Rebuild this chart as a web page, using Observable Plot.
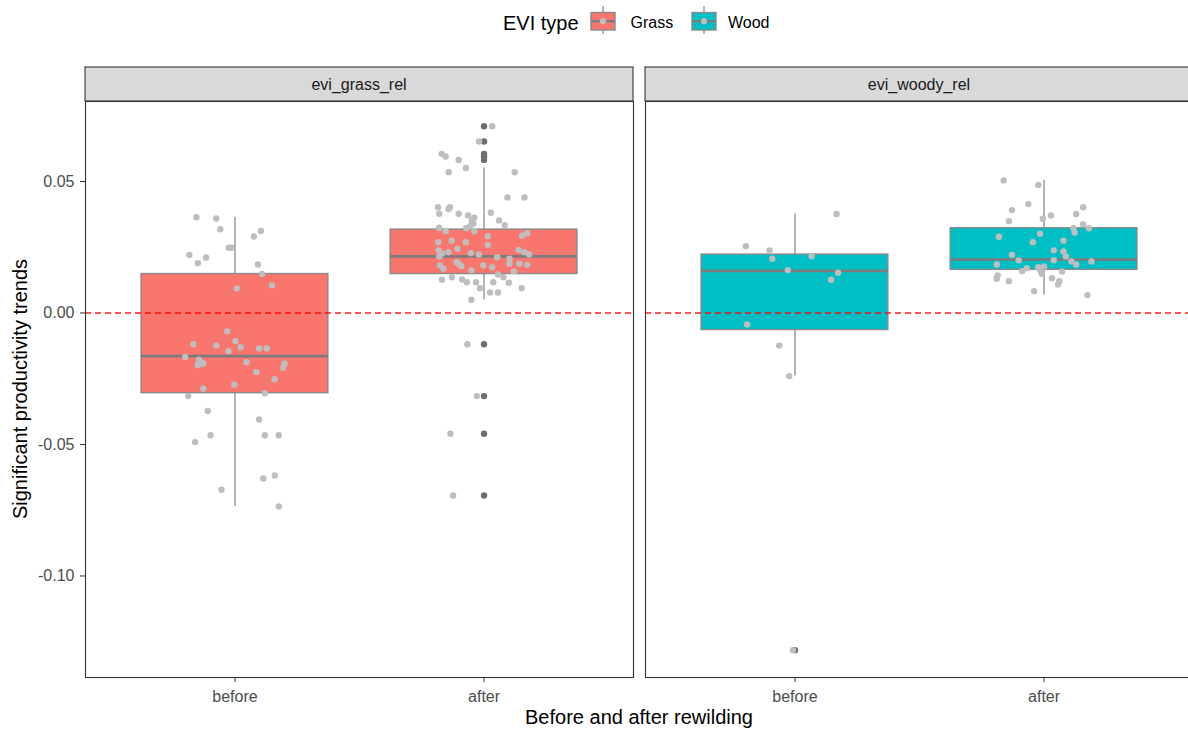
<!DOCTYPE html>
<html>
<head>
<meta charset="utf-8">
<script src="https://cdn.jsdelivr.net/npm/d3@7"></script>
<script src="https://cdn.jsdelivr.net/npm/@observablehq/plot@0.6"></script>
<style>
  html, body { margin: 0; padding: 0; overflow: hidden; background: #fff; }
  body { width: 1188px; height: 729px; font-family: "Liberation Sans", Arial, sans-serif; }
  #legend { display: block; width: 1188px; height: 44px; }
  #chart { width: 1196px; }
  #chart svg { display: block; max-width: none !important; }
</style>
</head>
<body>
<svg id="legend" width="1188" height="44"></svg>
<div id="chart"></div>
<script>
// Facets, EVI types and rewilding periods
const panels = ["evi_grass_rel", "evi_woody_rel"];
const types = ["Grass", "Wood"];
const periods = ["before", "after"];
const typeColors = ["#F8766D", "#00BFC4"];
const yTicks = [-0.10, -0.05, 0.00, 0.05];

// Significant productivity trends per site, with horizontal jitter (in category units)
const grassBeforeValue = [0.0364, 0.0359, 0.0318, 0.0312, 0.0291, 0.0248, 0.0248, 0.0221, 0.0211, 0.0189, 0.0184, 0.0148, 0.0105, 0.0093, -0.0070, -0.0107, -0.0119, -0.0124, -0.0130, -0.0135, -0.0135, -0.0145, -0.0167, -0.0178, -0.0187, -0.0192, -0.0198, -0.0187, -0.0192, -0.0208, -0.0225, -0.0252, -0.0273, -0.0288, -0.0305, -0.0316, -0.0373, -0.0405, -0.0465, -0.0465, -0.0465, -0.0491, -0.0618, -0.0629, -0.0672, -0.0736];
const grassBeforeJitter = [-0.155, -0.075, -0.059, 0.104, 0.076, -0.025, -0.014, -0.183, -0.116, -0.149, 0.092, 0.109, 0.148, 0.007, -0.031, 0.002, -0.167, -0.075, 0.023, 0.097, 0.127, -0.026, -0.2, -0.144, -0.139, -0.127, -0.149, 0.047, 0.199, 0.194, 0.086, 0.159, -0.003, -0.127, 0.12, -0.188, -0.109, 0.097, -0.098, 0.12, 0.176, -0.16, 0.16, 0.114, -0.054, 0.176];

const grassAfterValue = [0.0710, 0.0652, 0.0605, 0.0595, 0.0582, 0.0551, 0.0535, 0.0535, 0.0439, 0.0439, 0.0402, 0.0402, 0.0395, 0.0377, 0.0377, 0.0381, 0.0371, 0.0362, 0.0352, 0.0350, 0.0334, 0.0339, 0.0330, 0.0322, 0.0324, 0.0311, 0.0311, 0.0303, 0.0294, 0.0292, 0.0269, 0.0275, 0.0269, 0.0259, 0.0244, 0.0238, 0.0225, 0.0231, 0.0227, 0.0222, 0.0240, 0.0231, 0.0222, 0.0215, 0.0212, 0.0206, 0.0193, 0.0184, 0.0178, 0.0181, 0.0168, 0.0181, 0.0174, 0.0187, 0.0187, 0.0183, 0.0162, 0.0136, 0.0126, 0.0127, 0.0117, 0.0146, 0.0136, 0.0115, 0.0158, 0.0117, 0.0117, 0.0094, 0.0094, 0.0078, 0.0078, 0.0050, -0.0119, -0.0316, -0.0459, -0.0694];
const grassAfterJitter = [0.033, -0.02, -0.17, -0.154, -0.102, -0.073, -0.142, 0.123, 0.094, 0.162, -0.185, -0.137, -0.143, -0.18, -0.102, 0.027, -0.064, -0.039, 0.06, -0.049, 0.083, -0.043, -0.056, -0.072, -0.18, -0.154, -0.039, 0.173, 0.153, 0.015, -0.184, -0.13, -0.073, 0.015, -0.107, -0.182, -0.169, -0.143, -0.053, -0.021, 0.139, 0.162, 0.181, -0.18, 0.053, 0.102, -0.11, -0.099, -0.091, -0.177, -0.163, -0.003, 0.033, 0.102, 0.142, 0.173, -0.051, -0.129, -0.169, -0.088, -0.069, 0.056, 0.078, 0.099, 0.12, -0.032, 0.037, 0.151, -0.016, 0.024, 0.056, -0.051, -0.067, -0.029, -0.135, -0.124];

const woodBeforeValue = [0.0376, 0.0254, 0.0238, 0.0206, 0.0216, 0.0163, 0.0153, 0.0126, -0.0044, -0.0124, -0.0240, -0.1282];
const woodBeforeJitter = [0.167, -0.197, -0.102, -0.091, 0.067, -0.029, 0.173, 0.145, -0.192, -0.063, -0.023, -0.008];

const woodAfterValue = [0.0504, 0.0487, 0.0414, 0.0391, 0.0402, 0.0376, 0.0371, 0.0349, 0.0358, 0.0337, 0.0322, 0.0322, 0.0306, 0.0301, 0.0290, 0.0275, 0.0269, 0.0238, 0.0234, 0.0215, 0.0221, 0.0200, 0.0200, 0.0196, 0.0184, 0.0196, 0.0184, 0.0170, 0.0159, 0.0174, 0.0177, 0.0162, 0.0149, 0.0158, 0.0143, 0.0130, 0.0121, 0.0132, 0.0121, 0.0108, 0.0083, 0.0068];
const woodAfterJitter = [-0.162, -0.023, -0.063, -0.129, 0.157, 0.129, 0.028, -0.141, -0.005, 0.157, 0.18, 0.118, 0.123, -0.016, -0.181, 0.078, -0.045, 0.039, 0.078, 0.088, -0.129, -0.102, 0.039, 0.11, 0.129, 0.19, -0.19, -0.069, -0.088, -0.023, 0, -0.016, -0.009, 0.072, -0.186, -0.19, -0.141, 0.032, 0.061, 0.056, -0.04, 0.174];

// Box summaries, ordered grass-before, grass-after, wood-before, wood-after
const boxLower  = [-0.0736, 0.0050, -0.0240, 0.0068];
const boxQ1     = [-0.0305, 0.0148, -0.0065, 0.0164];
const boxMedian = [-0.0164, 0.0215, 0.0160, 0.0203];
const boxQ3     = [0.0148, 0.0317, 0.0222, 0.0322];
const boxUpper  = [0.0364, 0.0551, 0.0376, 0.0504];

// Assemble tidy rows
const groups = [
  {panel: panels[0], type: types[0], period: periods[0], values: grassBeforeValue, jitter: grassBeforeJitter},
  {panel: panels[0], type: types[0], period: periods[1], values: grassAfterValue, jitter: grassAfterJitter},
  {panel: panels[1], type: types[1], period: periods[0], values: woodBeforeValue, jitter: woodBeforeJitter},
  {panel: panels[1], type: types[1], period: periods[1], values: woodAfterValue, jitter: woodAfterJitter}
];
const boxes = groups.map((g, i) => ({
  panel: g.panel, type: g.type, pos: periods.indexOf(g.period) + 1,
  lower: boxLower[i], q1: boxQ1[i], median: boxMedian[i], q3: boxQ3[i], upper: boxUpper[i]
}));
const points = groups.flatMap((g, i) => g.values.map((v, j) => ({
  panel: g.panel, pos: periods.indexOf(g.period) + 1, value: v, jitter: g.jitter[j],
  outlier: v < boxLower[i] || v > boxUpper[i]
})));
const outliers = points.filter(d => d.outlier);

const halfBox = 0.375;
const boxStroke = "#8a8a8a";

const plot = Plot.plot({
  width: 1196,
  height: 685,
  marginLeft: 85,
  marginRight: 3,
  marginTop: 57,
  marginBottom: 52,
  style: {fontFamily: '"Liberation Sans", Arial, sans-serif', fontSize: "16px", background: "white", overflow: "visible"},
  fx: {domain: panels, paddingInner: 12 / 560, paddingOuter: 0, axis: null, label: null},
  x: {type: "linear", domain: [0.4, 2.6]},
  y: {domain: [-0.1386, 0.0804]},
  color: {domain: types, range: typeColors},
  marks: [
    Plot.ruleX(boxes, {fx: "panel", x: "pos", y1: "lower", y2: "upper", stroke: boxStroke, strokeWidth: 1.3}),
    Plot.rect(boxes, {fx: "panel", x1: d => d.pos - halfBox, x2: d => d.pos + halfBox, y1: "q1", y2: "q3",
      fill: "type", stroke: boxStroke, strokeWidth: 1.4}),
    Plot.ruleY(boxes, {fx: "panel", x1: d => d.pos - halfBox, x2: d => d.pos + halfBox, y: "median",
      stroke: "#7c7c7c", strokeWidth: 2.6}),
    Plot.dot(outliers, {fx: "panel", x: "pos", y: "value", r: 3.2, fill: "#6e6e6e", stroke: "none"}),
    Plot.ruleY([0], {stroke: "#ff0000", strokeOpacity: 0.9, strokeWidth: 1.4, strokeDasharray: "6,4"}),
    Plot.dot(points, {fx: "panel", x: d => d.pos + d.jitter, y: "value", r: 3.2, fill: "#bebebe", stroke: "none"}),
    Plot.frame({stroke: "#333333", strokeWidth: 1.1}),
    Plot.axisY({ticks: yTicks, tickFormat: d => d.toFixed(2), tickSize: 5, tickPadding: 6,
      stroke: "#333333", fill: "#4d4d4d", label: null}),
    Plot.axisX({ticks: [1, 2], tickFormat: d => periods[d - 1], tickSize: 5, tickPadding: 8,
      stroke: "#333333", fill: "#4d4d4d", label: null})
  ]
});

document.getElementById("chart").append(plot);

// Facet strips above each panel
const svg = d3.select(plot);
const fxScale = plot.scale("fx");
const stripTop = 23, stripHeight = 34;
panels.forEach(p => {
  const x0 = fxScale.apply(p);
  const bw = fxScale.bandwidth;
  svg.append("rect")
    .attr("x", x0).attr("y", stripTop)
    .attr("width", bw).attr("height", stripHeight)
    .attr("fill", "#d9d9d9").attr("stroke", "#333333").attr("stroke-width", 1.1);
  svg.append("text")
    .attr("x", x0 + bw / 2).attr("y", stripTop + stripHeight / 2)
    .attr("dy", "0.36em").attr("text-anchor", "middle")
    .attr("font-size", 16).attr("fill", "#1a1a1a")
    .text(p);
});

// Axis titles
const first = fxScale.apply(panels[0]);
const last = fxScale.apply(panels[1]) + fxScale.bandwidth;
svg.append("text")
  .attr("x", (first + last) / 2).attr("y", 680)
  .attr("text-anchor", "middle").attr("font-size", 20).attr("fill", "#000")
  .text("Before and after rewilding");
svg.append("text")
  .attr("transform", `translate(26.5,${(57 + 633) / 2}) rotate(-90)`)
  .attr("text-anchor", "middle").attr("font-size", 20).attr("fill", "#000")
  .text("Significant productivity trends");

// Legend: title plus boxplot keys coloured from the fill scale
const color = plot.scale("color");
const lg = d3.select("#legend").attr("font-family", '"Liberation Sans", Arial, sans-serif');
lg.append("text").attr("x", 503).attr("y", 29.5).attr("font-size", 20).attr("fill", "#000").text("EVI type");
const keyX = [591, 692];
const labelX = [630.5, 728];
types.forEach((t, i) => {
  const g = lg.append("g").attr("transform", `translate(${keyX[i]},0)`);
  g.append("line").attr("x1", 12).attr("x2", 12).attr("y1", 6).attr("y2", 34)
    .attr("stroke", boxStroke).attr("stroke-width", 1.3);
  g.append("rect").attr("x", 0).attr("y", 12.5).attr("width", 24).attr("height", 17.5)
    .attr("fill", color.apply(t)).attr("stroke", boxStroke).attr("stroke-width", 1.4);
  g.append("line").attr("x1", 0).attr("x2", 24).attr("y1", 21.2).attr("y2", 21.2)
    .attr("stroke", "#7c7c7c").attr("stroke-width", 2.2);
  g.append("circle").attr("cx", 12).attr("cy", 21.2).attr("r", 3.1).attr("fill", "#bebebe");
  lg.append("text").attr("x", labelX[i]).attr("y", 28).attr("font-size", 16).attr("fill", "#000").text(t);
});
</script>
</body>
</html>
